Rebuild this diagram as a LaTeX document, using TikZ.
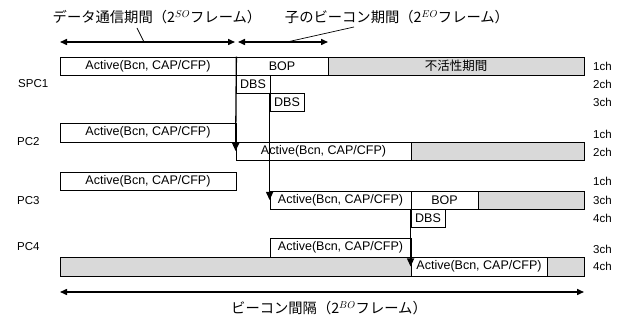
\documentclass[tikz,border=0pt]{standalone}
\usepackage{fontspec}
\setmainfont{Liberation Sans}
\newfontfamily\jp{Noto Sans CJK JP}
\usetikzlibrary{arrows.meta}
\newcommand\bnode[7]{\node[box,#6,minimum width={#3-#2},minimum height={#5-#4}] (#1) at ({(#2+#3)/2},{(#4+#5)/2}) {#7};}
\begin{document}
\begin{tikzpicture}[x=1pt,y=-1pt,
  box/.style={draw,line width=0.8pt,inner sep=0pt,font=\fontsize{12.5}{14}\selectfont},
  shade/.style={fill=black!15},
  lab/.style={anchor=west,inner sep=0pt,font=\fontsize{11.5}{13}\selectfont},
  jplab/.style={inner sep=0pt,font=\jp\fontsize{14.3}{16}\selectfont},
  varrow/.style={line width=1.3pt,-{Triangle[length=8pt,width=7pt]}},
  darrow/.style={line width=1.5pt,{Triangle[length=7pt,width=6pt]}-{Triangle[length=7pt,width=6pt]}},
  leader/.style={line width=0.7pt}]
\useasboundingbox (0,0) rectangle (622,320);
% SPC1
\bnode{a1}{60}{236}{57}{75}{}{Active(Bcn, CAP/CFP)}
\bnode{b1}{236}{328}{57}{75}{}{BOP}
\bnode{g1}{328}{584}{57}{75}{shade}{\jp 不活性期間}
\bnode{d1}{236}{270}{75}{93}{}{DBS}
\bnode{d2}{270}{304}{93}{111}{}{DBS}
% PC2
\bnode{a2}{60}{236}{123}{142}{}{Active(Bcn, CAP/CFP)}
\bnode{a2b}{236}{411}{142}{160}{}{Active(Bcn, CAP/CFP)}
\bnode{g2}{411}{584}{142}{160}{shade}{}
% PC3
\bnode{a3}{60}{236}{172}{190}{}{Active(Bcn, CAP/CFP)}
\bnode{a3b}{270}{411}{191}{209}{}{Active(Bcn, CAP/CFP)}
\bnode{b3}{411}{478}{191}{209}{}{BOP}
\bnode{g3}{478}{584}{191}{209}{shade}{}
\bnode{d3}{411}{445}{209}{227}{}{DBS}
% PC4
\bnode{a4}{270}{411}{238}{257}{}{Active(Bcn, CAP/CFP)}
\bnode{g4}{60}{411}{257}{276}{shade}{}
\bnode{a4b}{411}{547}{257}{276}{}{Active(Bcn, CAP/CFP)}
\bnode{g4b}{547}{584}{257}{276}{shade}{}
% vertical arrows
\draw[varrow] (a1.north east) -- (a2b.west);
\draw[varrow] (d2.north west) -- (a3b.west);
\draw[varrow] (d3.north west) -- (a4b.west);
% device labels
\node[lab] (spc1) at (18,84) {SPC1};
\node[lab] (pc2) at (17,142) {PC2};
\node[lab] (pc3) at (17,201) {PC3};
\node[lab] (pc4) at (17,247) {PC4};
% channel labels
\node[lab] (c11) at (593,66) {1ch};
\node[lab] (c12) at (593,84) {2ch};
\node[lab] (c13) at (593,102) {3ch};
\node[lab] (c21) at (593,134) {1ch};
\node[lab] (c22) at (593,152) {2ch};
\node[lab] (c31) at (593,181) {1ch};
\node[lab] (c33) at (593,200) {3ch};
\node[lab] (c34) at (593,218) {4ch};
\node[lab] (c43) at (593,249) {3ch};
\node[lab] (c44) at (593,266) {4ch};
% top labels and arrows
\node[jplab] (t1) at (157,17) {データ通信期間（2$^{SO}$フレーム）};
\node[jplab] (t2) at (397,17) {子のビーコン期間（2$^{EO}$フレーム）};
\coordinate (p1l) at (60,42);
\coordinate (p1r) at (235,42);
\coordinate (p2l) at (238,42);
\coordinate (p2r) at (328,42);
\draw[darrow] (p1l) -- (p1r);
\draw[darrow] (p2l) -- (p2r);
\coordinate (l1a) at (137,28);
\coordinate (l1b) at (144,42);
\coordinate (l2a) at (354,27);
\coordinate (l2b) at (287,42);
\draw[leader] (l1a) -- (l1b);
\draw[leader] (l2a) -- (l2b);
% bottom
\coordinate (bl) at (60,292);
\coordinate (br) at (584,292);
\draw[darrow] (bl) -- (br);
\node[jplab] (t3) at (329,308) {ビーコン間隔（2$^{BO}$フレーム）};
\end{tikzpicture}
\end{document}
